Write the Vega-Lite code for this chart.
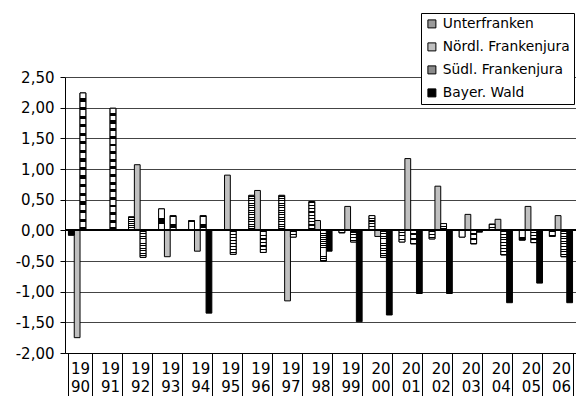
{
  "$schema": "https://vega.github.io/schema/vega-lite/v6.json",
  "width": 511,
  "height": 276,
  "autosize": {"type": "none"},
  "padding": {"left": 65, "top": 77, "right": 0, "bottom": 43},
  "background": "white",
  "config": {"view": {"stroke": null}, "font": "DejaVu Sans"},
  "data": {
    "values": [
      {"year": "1990", "region": "Unterfranken", "value": -0.08},
      {"year": "1990", "region": "Nördl. Frankenjura", "value": -1.75},
      {"year": "1990", "region": "Südl. Frankenjura", "value": 2.24},
      {"year": "1991", "region": "Südl. Frankenjura", "value": 1.99},
      {"year": "1992", "region": "Unterfranken", "value": 0.22},
      {"year": "1992", "region": "Nördl. Frankenjura", "value": 1.07},
      {"year": "1992", "region": "Südl. Frankenjura", "value": -0.44},
      {"year": "1993", "region": "Unterfranken", "value": 0.35},
      {"year": "1993", "region": "Nördl. Frankenjura", "value": -0.43},
      {"year": "1993", "region": "Südl. Frankenjura", "value": 0.24},
      {"year": "1994", "region": "Unterfranken", "value": 0.16},
      {"year": "1994", "region": "Nördl. Frankenjura", "value": -0.34},
      {"year": "1994", "region": "Südl. Frankenjura", "value": 0.24},
      {"year": "1994", "region": "Bayer. Wald", "value": -1.35},
      {"year": "1995", "region": "Unterfranken", "value": 0.01},
      {"year": "1995", "region": "Nördl. Frankenjura", "value": 0.9},
      {"year": "1995", "region": "Südl. Frankenjura", "value": -0.39},
      {"year": "1996", "region": "Unterfranken", "value": 0.57},
      {"year": "1996", "region": "Nördl. Frankenjura", "value": 0.65},
      {"year": "1996", "region": "Südl. Frankenjura", "value": -0.36},
      {"year": "1997", "region": "Unterfranken", "value": 0.57},
      {"year": "1997", "region": "Nördl. Frankenjura", "value": -1.15},
      {"year": "1997", "region": "Südl. Frankenjura", "value": -0.11},
      {"year": "1998", "region": "Unterfranken", "value": 0.47},
      {"year": "1998", "region": "Nördl. Frankenjura", "value": 0.16},
      {"year": "1998", "region": "Südl. Frankenjura", "value": -0.5},
      {"year": "1998", "region": "Bayer. Wald", "value": -0.34},
      {"year": "1999", "region": "Unterfranken", "value": -0.04},
      {"year": "1999", "region": "Nördl. Frankenjura", "value": 0.39},
      {"year": "1999", "region": "Südl. Frankenjura", "value": -0.19},
      {"year": "1999", "region": "Bayer. Wald", "value": -1.49},
      {"year": "2000", "region": "Unterfranken", "value": 0.24},
      {"year": "2000", "region": "Nördl. Frankenjura", "value": -0.1},
      {"year": "2000", "region": "Südl. Frankenjura", "value": -0.44},
      {"year": "2000", "region": "Bayer. Wald", "value": -1.38},
      {"year": "2001", "region": "Unterfranken", "value": -0.19},
      {"year": "2001", "region": "Nördl. Frankenjura", "value": 1.17},
      {"year": "2001", "region": "Südl. Frankenjura", "value": -0.22},
      {"year": "2001", "region": "Bayer. Wald", "value": -1.03},
      {"year": "2002", "region": "Unterfranken", "value": -0.14},
      {"year": "2002", "region": "Nördl. Frankenjura", "value": 0.72},
      {"year": "2002", "region": "Südl. Frankenjura", "value": 0.11},
      {"year": "2002", "region": "Bayer. Wald", "value": -1.03},
      {"year": "2003", "region": "Unterfranken", "value": -0.11},
      {"year": "2003", "region": "Nördl. Frankenjura", "value": 0.26},
      {"year": "2003", "region": "Südl. Frankenjura", "value": -0.22},
      {"year": "2003", "region": "Bayer. Wald", "value": -0.03},
      {"year": "2004", "region": "Unterfranken", "value": 0.1},
      {"year": "2004", "region": "Nördl. Frankenjura", "value": 0.18},
      {"year": "2004", "region": "Südl. Frankenjura", "value": -0.4},
      {"year": "2004", "region": "Bayer. Wald", "value": -1.18},
      {"year": "2005", "region": "Unterfranken", "value": -0.16},
      {"year": "2005", "region": "Nördl. Frankenjura", "value": 0.39},
      {"year": "2005", "region": "Südl. Frankenjura", "value": -0.2},
      {"year": "2005", "region": "Bayer. Wald", "value": -0.86},
      {"year": "2006", "region": "Unterfranken", "value": -0.1},
      {"year": "2006", "region": "Nördl. Frankenjura", "value": 0.24},
      {"year": "2006", "region": "Südl. Frankenjura", "value": -0.43},
      {"year": "2006", "region": "Bayer. Wald", "value": -1.18}
    ]
  },
  "encoding": {
    "x": {
      "field": "year",
      "type": "nominal",
      "sort": null,
      "scale": {"paddingInner": 0.23, "paddingOuter": 0.115},
      "axis": {
        "title": null,
        "orient": "bottom",
        "domain": true,
        "domainColor": "black",
        "ticks": true,
        "tickBand": "extent",
        "tickSize": 43,
        "tickColor": "black",
        "labelAngle": 0,
        "labelFont": "DejaVu Sans",
        "labelFontSize": 15,
        "labelColor": "black",
        "labelPadding": -35,
        "labelBaseline": "top",
        "labelLineHeight": 18,
        "labelBound": false,
        "labelOverlap": false,
        "labelExpr": "[slice(datum.label, 0, 2), slice(datum.label, 2)]"
      }
    },
    "xOffset": {
      "field": "region",
      "type": "nominal",
      "scale": {
        "domain": ["Unterfranken", "Nördl. Frankenjura", "Südl. Frankenjura", "Bayer. Wald"],
        "paddingInner": 0,
        "paddingOuter": 0
      }
    },
    "y": {
      "field": "value",
      "type": "quantitative",
      "scale": {"domain": [-2, 2.5], "nice": false, "zero": false},
      "axis": {
        "title": null,
        "values": [-2, -1.5, -1, -0.5, 0, 0.5, 1, 1.5, 2, 2.5],
        "domain": true,
        "domainColor": "black",
        "ticks": true,
        "tickSize": 5,
        "tickColor": "black",
        "grid": true,
        "gridColor": "#444444",
        "gridWidth": 1,
        "labelFont": "DejaVu Sans",
        "labelFontSize": 15,
        "labelColor": "black",
        "labelPadding": 6,
        "labelExpr": "replace(replace(format(datum.value, '.2f'), '.', ','), '−', '-')"
      }
    }
  },
  "layer": [
    {
      "mark": {"type": "bar", "stroke": "black", "strokeWidth": 1},
      "encoding": {
        "fill": {
          "field": "region",
          "type": "nominal",
          "scale": {
            "domain": ["Unterfranken", "Nördl. Frankenjura", "Südl. Frankenjura", "Bayer. Wald"],
            "range": ["#9a9a9a", "#c0c0c0", "#8a8a8a", "black"]
          },
          "legend": {
            "title": null,
            "orient": "none",
            "legendX": 356,
            "legendY": -64,
            "direction": "vertical",
            "strokeColor": "black",
            "fillColor": "white",
            "padding": 4,
            "cornerRadius": 0,
            "symbolType": "square",
            "symbolSize": 64,
            "symbolStrokeColor": "black",
            "symbolStrokeWidth": 1,
            "symbolOpacity": 1,
            "labelFont": "DejaVu Sans",
            "labelFontSize": 13.8,
            "labelColor": "black",
            "labelOffset": 4,
            "rowPadding": 8
          }
        }
      }
    },
    {
      "transform": [{"filter": "datum.region === 'Unterfranken'"}],
      "mark": {
        "type": "bar",
        "stroke": "black",
        "strokeWidth": 1,
        "fill": {"gradient": "linear", "x1": 0, "y1": 0, "x2": 0, "y2": 1, "stops": [
          {"offset": 0, "color": "white"}, {"offset": 0.03, "color": "white"}, {"offset": 0.03, "color": "black"}, {"offset": 0.05, "color": "black"},
          {"offset": 0.05, "color": "white"}, {"offset": 0.08, "color": "white"}, {"offset": 0.08, "color": "black"}, {"offset": 0.10, "color": "black"},
          {"offset": 0.10, "color": "white"}, {"offset": 0.13, "color": "white"}, {"offset": 0.13, "color": "black"}, {"offset": 0.15, "color": "black"},
          {"offset": 0.15, "color": "white"}, {"offset": 0.18, "color": "white"}, {"offset": 0.18, "color": "black"}, {"offset": 0.20, "color": "black"},
          {"offset": 0.20, "color": "white"}, {"offset": 0.23, "color": "white"}, {"offset": 0.23, "color": "black"}, {"offset": 0.25, "color": "black"},
          {"offset": 0.25, "color": "white"}, {"offset": 0.28, "color": "white"}, {"offset": 0.28, "color": "black"}, {"offset": 0.30, "color": "black"},
          {"offset": 0.30, "color": "white"}, {"offset": 0.33, "color": "white"}, {"offset": 0.33, "color": "black"}, {"offset": 0.35, "color": "black"},
          {"offset": 0.35, "color": "white"}, {"offset": 0.38, "color": "white"}, {"offset": 0.38, "color": "black"}, {"offset": 0.40, "color": "black"},
          {"offset": 0.40, "color": "white"}, {"offset": 0.43, "color": "white"}, {"offset": 0.43, "color": "black"}, {"offset": 0.45, "color": "black"},
          {"offset": 0.45, "color": "white"}, {"offset": 0.48, "color": "white"}, {"offset": 0.48, "color": "black"}, {"offset": 0.50, "color": "black"},
          {"offset": 0.50, "color": "white"}, {"offset": 0.53, "color": "white"}, {"offset": 0.53, "color": "black"}, {"offset": 0.55, "color": "black"},
          {"offset": 0.55, "color": "white"}, {"offset": 0.58, "color": "white"}, {"offset": 0.58, "color": "black"}, {"offset": 0.60, "color": "black"},
          {"offset": 0.60, "color": "white"}, {"offset": 0.63, "color": "white"}, {"offset": 0.63, "color": "black"}, {"offset": 0.65, "color": "black"},
          {"offset": 0.65, "color": "white"}, {"offset": 0.68, "color": "white"}, {"offset": 0.68, "color": "black"}, {"offset": 0.70, "color": "black"},
          {"offset": 0.70, "color": "white"}, {"offset": 0.73, "color": "white"}, {"offset": 0.73, "color": "black"}, {"offset": 0.75, "color": "black"},
          {"offset": 0.75, "color": "white"}, {"offset": 0.78, "color": "white"}, {"offset": 0.78, "color": "black"}, {"offset": 0.80, "color": "black"},
          {"offset": 0.80, "color": "white"}, {"offset": 0.83, "color": "white"}, {"offset": 0.83, "color": "black"}, {"offset": 0.85, "color": "black"},
          {"offset": 0.85, "color": "white"}, {"offset": 0.88, "color": "white"}, {"offset": 0.88, "color": "black"}, {"offset": 0.90, "color": "black"},
          {"offset": 0.90, "color": "white"}, {"offset": 0.93, "color": "white"}, {"offset": 0.93, "color": "black"}, {"offset": 0.95, "color": "black"},
          {"offset": 0.95, "color": "white"}, {"offset": 1, "color": "white"}
        ]}
      }
    },
    {
      "transform": [{"filter": "datum.region === 'Südl. Frankenjura'"}],
      "mark": {
        "type": "bar",
        "stroke": "black",
        "strokeWidth": 1,
        "fill": {"gradient": "linear", "x1": 0, "y1": 0, "x2": 0, "y2": 1, "stops": [
          {"offset": 0, "color": "white"}, {"offset": 0.04, "color": "white"}, {"offset": 0.04, "color": "black"}, {"offset": 0.0625, "color": "black"},
          {"offset": 0.0625, "color": "white"}, {"offset": 0.1, "color": "white"}, {"offset": 0.1, "color": "black"}, {"offset": 0.125, "color": "black"},
          {"offset": 0.125, "color": "white"}, {"offset": 0.165, "color": "white"}, {"offset": 0.165, "color": "black"}, {"offset": 0.1875, "color": "black"},
          {"offset": 0.1875, "color": "white"}, {"offset": 0.225, "color": "white"}, {"offset": 0.225, "color": "black"}, {"offset": 0.25, "color": "black"},
          {"offset": 0.25, "color": "white"}, {"offset": 0.29, "color": "white"}, {"offset": 0.29, "color": "black"}, {"offset": 0.3125, "color": "black"},
          {"offset": 0.3125, "color": "white"}, {"offset": 0.35, "color": "white"}, {"offset": 0.35, "color": "black"}, {"offset": 0.375, "color": "black"},
          {"offset": 0.375, "color": "white"}, {"offset": 0.415, "color": "white"}, {"offset": 0.415, "color": "black"}, {"offset": 0.4375, "color": "black"},
          {"offset": 0.4375, "color": "white"}, {"offset": 0.475, "color": "white"}, {"offset": 0.475, "color": "black"}, {"offset": 0.5, "color": "black"},
          {"offset": 0.5, "color": "white"}, {"offset": 0.54, "color": "white"}, {"offset": 0.54, "color": "black"}, {"offset": 0.5625, "color": "black"},
          {"offset": 0.5625, "color": "white"}, {"offset": 0.6, "color": "white"}, {"offset": 0.6, "color": "black"}, {"offset": 0.625, "color": "black"},
          {"offset": 0.625, "color": "white"}, {"offset": 0.665, "color": "white"}, {"offset": 0.665, "color": "black"}, {"offset": 0.6875, "color": "black"},
          {"offset": 0.6875, "color": "white"}, {"offset": 0.725, "color": "white"}, {"offset": 0.725, "color": "black"}, {"offset": 0.75, "color": "black"},
          {"offset": 0.75, "color": "white"}, {"offset": 0.79, "color": "white"}, {"offset": 0.79, "color": "black"}, {"offset": 0.8125, "color": "black"},
          {"offset": 0.8125, "color": "white"}, {"offset": 0.85, "color": "white"}, {"offset": 0.85, "color": "black"}, {"offset": 0.875, "color": "black"},
          {"offset": 0.875, "color": "white"}, {"offset": 0.915, "color": "white"}, {"offset": 0.915, "color": "black"}, {"offset": 0.9375, "color": "black"},
          {"offset": 0.9375, "color": "white"}, {"offset": 0.975, "color": "white"}, {"offset": 0.975, "color": "black"}, {"offset": 1, "color": "black"}
        ]}
      }
    },
    {
      "mark": {"type": "rule", "color": "black", "strokeWidth": 1.5},
      "encoding": {"x": null, "xOffset": null, "y": {"datum": 0}}
    }
  ]
}
